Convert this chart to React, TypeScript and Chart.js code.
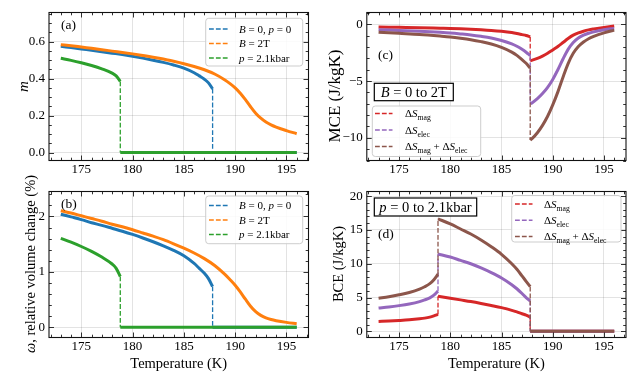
import React, { useEffect, useRef } from 'react';
import { Chart, registerables } from 'chart.js';

Chart.register(...registerables);

const SERIF = '"Liberation Serif", "Times New Roman", serif';
const C_BLUE = '#1f77b4';
const C_ORANGE = '#ff7f0e';
const C_GREEN = '#2ca02c';
const C_RED = '#d62728';
const C_PURPLE = '#9467bd';
const C_BROWN = '#8c564b';
const GRID = 'rgba(0,0,0,0.14)';

// ---------- x axis ----------
const X_MIN = 171.85;
const X_MAX = 197.15;
const X_TICK_STEP = 5;

// ---------- panels (a),(b): order parameter m and volume change ω ----------
const T_P0 = [173, 174, 175, 176, 177, 178, 179, 180, 181, 182, 183, 184, 185, 186, 186.5, 187, 187.4, 187.8];
const M_P0 = [0.575, 0.568, 0.561, 0.553, 0.546, 0.538, 0.530, 0.521, 0.511, 0.500, 0.488, 0.474, 0.457, 0.432, 0.415, 0.397, 0.377, 0.345];
const W_P0 = [2.040, 1.991, 1.942, 1.887, 1.839, 1.786, 1.733, 1.675, 1.611, 1.543, 1.469, 1.386, 1.289, 1.151, 1.063, 0.972, 0.877, 0.734];
const T_P0_ZERO = [187.8, 196];

const T_B2 = [173, 174, 175, 176, 177, 178, 179, 180, 181, 182, 183, 184, 185, 186, 187, 188, 189, 189.5, 190, 190.5, 191, 191.5, 192, 192.5, 193, 193.5, 194, 195, 196];
const M_B2 = [0.584, 0.578, 0.571, 0.564, 0.557, 0.549, 0.542, 0.534, 0.525, 0.516, 0.506, 0.494, 0.481, 0.466, 0.448, 0.425, 0.393, 0.373, 0.350, 0.321, 0.286, 0.248, 0.213, 0.186, 0.165, 0.150, 0.138, 0.119, 0.102];
const W_B2 = [2.104, 2.061, 2.012, 1.963, 1.914, 1.860, 1.813, 1.759, 1.701, 1.643, 1.580, 1.506, 1.427, 1.340, 1.238, 1.114, 0.953, 0.858, 0.756, 0.636, 0.505, 0.379, 0.280, 0.213, 0.168, 0.139, 0.118, 0.087, 0.064];

const T_P21 = [173, 174, 175, 176, 177, 178, 178.4, 178.8];
const M_P21 = [0.510, 0.499, 0.486, 0.471, 0.453, 0.430, 0.415, 0.385];
const W_P21 = [1.605, 1.536, 1.457, 1.369, 1.266, 1.141, 1.063, 0.915];
const T_P21_ZERO = [178.8, 196];

const ZERO2 = [0, 0];

// ---------- panel (c): MCE ----------
const T_C_PRE = [173, 175, 177, 179, 180, 181, 182, 183, 184, 185, 186, 186.5, 187, 187.4, 187.8];
const MAG_C_PRE = [-0.23, -0.26, -0.29, -0.33, -0.35, -0.38, -0.42, -0.47, -0.53, -0.61, -0.72, -0.8, -0.9, -0.98, -1.1];
const ELEC_C_PRE = [-0.46, -0.53, -0.6, -0.7, -0.76, -0.84, -0.93, -1.05, -1.2, -1.42, -1.72, -1.93, -2.2, -2.45, -2.75];
const TOT_C_PRE = [-0.69, -0.79, -0.89, -1.03, -1.11, -1.22, -1.35, -1.52, -1.73, -2.03, -2.44, -2.73, -3.1, -3.43, -3.85];
const T_C_POST = [187.8, 188, 188.5, 189, 189.5, 190, 190.5, 191, 191.5, 192, 192.5, 193, 193.5, 194, 195, 196];
const MAG_C_POST = [-3.2, -3.15, -3.0, -2.8, -2.55, -2.25, -1.95, -1.6, -1.25, -0.95, -0.75, -0.6, -0.48, -0.4, -0.27, -0.15];
const ELEC_C_POST = [-7.0, -6.9, -6.55, -6.1, -5.55, -4.85, -4.0, -3.05, -2.2, -1.6, -1.2, -0.95, -0.78, -0.66, -0.48, -0.35];
const TOT_C_POST = [-10.2, -10.05, -9.55, -8.9, -8.1, -7.1, -5.95, -4.65, -3.45, -2.55, -1.95, -1.55, -1.26, -1.06, -0.75, -0.5];

// ---------- panel (d): BCE ----------
const T_D_PRE = [173, 174, 175, 176, 177, 177.5, 178, 178.4, 178.8];
const MAG_D_PRE = [1.45, 1.52, 1.6, 1.7, 1.85, 1.95, 2.1, 2.28, 2.5];
const ELEC_D_PRE = [3.45, 3.6, 3.8, 4.05, 4.4, 4.65, 4.95, 5.35, 5.95];
const TOT_D_PRE = [4.9, 5.12, 5.4, 5.75, 6.25, 6.6, 7.05, 7.63, 8.45];
const T_D_MID = [178.8, 180, 181, 182, 183, 184, 185, 186, 186.5, 187, 187.4, 187.8];
const MAG_D_MID = [5.2, 4.9, 4.65, 4.4, 4.12, 3.82, 3.5, 3.1, 2.88, 2.6, 2.4, 2.1];
const ELEC_D_MID = [11.45, 11.0, 10.5, 10.0, 9.4, 8.7, 7.9, 6.9, 6.3, 5.6, 5.0, 4.5];
const TOT_D_MID = [16.65, 15.9, 15.15, 14.4, 13.52, 12.52, 11.4, 10.0, 9.18, 8.2, 7.4, 6.6];
const T_D_POST = [187.8, 196];

// ---------- helpers ----------
type Seg = { t: string; it?: boolean; sub?: boolean };
type P = { x: number; y: number | null };

function pts(xs: number[], ys: number[]): P[] {
  return xs.map((x, i) => ({ x, y: ys[i] }));
}
function joinGap(...parts: P[][]): P[] {
  const out: P[] = [];
  parts.forEach((p, k) => {
    if (k > 0) out.push({ x: p[0].x, y: null });
    out.push(...p);
  });
  return out;
}
function last(a: number[]) {
  return a[a.length - 1];
}
function solid(data: P[], color: string, order: number) {
  return {
    data,
    borderColor: color,
    backgroundColor: color,
    borderWidth: 3,
    pointRadius: 0,
    cubicInterpolationMode: 'monotone',
    spanGaps: false,
    fill: false,
    order,
  };
}
function dashed(data: P[], color: string, order: number) {
  return {
    data,
    borderColor: color,
    backgroundColor: color,
    borderWidth: 1.3,
    borderDash: [4.8, 2.1],
    pointRadius: 0,
    tension: 0,
    spanGaps: false,
    fill: false,
    order,
  };
}

function segFont(s: Seg, size: number) {
  const sz = s.sub ? size * 0.7 : size;
  return `${s.it ? 'italic ' : ''}${sz}px ${SERIF}`;
}
function richWidth(ctx: CanvasRenderingContext2D, segs: Seg[], size: number) {
  let w = 0;
  for (const s of segs) {
    ctx.font = segFont(s, size);
    w += ctx.measureText(s.t).width;
  }
  return w;
}
function drawRich(ctx: CanvasRenderingContext2D, segs: Seg[], x: number, baseline: number, size: number, align: 'left' | 'center') {
  const w = richWidth(ctx, segs, size);
  let cx = align === 'center' ? x - w / 2 : x;
  ctx.textAlign = 'left';
  ctx.textBaseline = 'alphabetic';
  for (const s of segs) {
    ctx.font = segFont(s, size);
    ctx.fillText(s.t, cx, baseline + (s.sub ? size * 0.24 : 0));
    cx += ctx.measureText(s.t).width;
  }
}

interface LegendDef {
  box: [number, number, number, number];
  rows: number[];
  hx: [number, number];
  tx: number;
  size: number;
  items: { color: string; segs: Seg[] }[];
}
interface PanelDef {
  area: { l: number; t: number; r: number; b: number };
  y: { min: number; max: number; step: number; minor: number; fmt: (v: number) => string };
  datasets: any[];
  legend: LegendDef;
  tag: { t: string; x: number; y: number };
  box?: { segs: Seg[]; rect: [number, number, number, number]; size: number };
  yTitle: { segs: Seg[]; x: number; y: number; size: number };
  xTitle?: { x: number; y: number };
}

const LEG_AB = [
  { color: C_BLUE, segs: [{ t: 'B', it: true }, { t: ' = 0, ' }, { t: 'p', it: true }, { t: ' = 0' }] },
  { color: C_ORANGE, segs: [{ t: 'B', it: true }, { t: ' = 2T' }] },
  { color: C_GREEN, segs: [{ t: 'p', it: true }, { t: ' = 2.1kbar' }] },
];
const LEG_CD = [
  { color: C_RED, segs: [{ t: 'Δ' }, { t: 'S', it: true }, { t: 'mag', sub: true }] },
  { color: C_PURPLE, segs: [{ t: 'Δ' }, { t: 'S', it: true }, { t: 'elec', sub: true }] },
  {
    color: C_BROWN,
    segs: [{ t: 'Δ' }, { t: 'S', it: true }, { t: 'mag', sub: true }, { t: ' + Δ' }, { t: 'S', it: true }, { t: 'elec', sub: true }],
  },
];

const minusFmt = (v: number) => (v < 0 ? '\u2212' + Math.abs(v) : String(v));

const PANELS: PanelDef[] = [
  {
    area: { l: 49, t: 12.5, r: 308.5, b: 160.5 },
    y: { min: -0.043, max: 0.758, step: 0.2, minor: 0.05, fmt: (v) => v.toFixed(1) },
    datasets: [
      solid(joinGap(pts(T_P0, M_P0), pts(T_P0_ZERO, ZERO2)), C_BLUE, 6),
      dashed(pts([last(T_P0), last(T_P0)], [last(M_P0), 0]), C_BLUE, 5),
      solid(pts(T_B2, M_B2), C_ORANGE, 4),
      dashed(pts([last(T_P21), last(T_P21)], [last(M_P21), 0]), C_GREEN, 3),
      solid(joinGap(pts(T_P21, M_P21), pts(T_P21_ZERO, ZERO2)), C_GREEN, 2),
    ],
    legend: { box: [205.7, 18.3, 302.7, 66], rows: [29, 43.5, 58], hx: [209, 229], tx: 239, size: 11, items: LEG_AB },
    tag: { t: '(a)', x: 61, y: 25 },
    yTitle: { segs: [{ t: 'm', it: true }], x: 22.5, y: 86.5, size: 15 },
  },
  {
    area: { l: 49, t: 191.5, r: 308.5, b: 337.5 },
    y: { min: -0.186, max: 2.45, step: 1, minor: 0.2, fmt: (v) => String(v) },
    datasets: [
      solid(joinGap(pts(T_P0, W_P0), pts(T_P0_ZERO, ZERO2)), C_BLUE, 6),
      dashed(pts([last(T_P0), last(T_P0)], [last(W_P0), 0]), C_BLUE, 5),
      solid(pts(T_B2, W_B2), C_ORANGE, 4),
      dashed(pts([last(T_P21), last(T_P21)], [last(W_P21), 0]), C_GREEN, 3),
      solid(joinGap(pts(T_P21, W_P21), pts(T_P21_ZERO, ZERO2)), C_GREEN, 2),
    ],
    legend: { box: [205.7, 196, 302.7, 243.7], rows: [205.5, 220, 234.5], hx: [209, 229], tx: 239, size: 11, items: LEG_AB },
    tag: { t: '(b)', x: 61, y: 204.5 },
    yTitle: { segs: [{ t: 'ω', it: true }, { t: ', relative volume change (%)' }], x: 30, y: 264, size: 14.5 },
    xTitle: { x: 178.7, y: 362.8 },
  },
  {
    area: { l: 366.8, t: 12.5, r: 626, b: 160.5 },
    y: { min: -12, max: 1.05, step: 5, minor: 1, fmt: minusFmt },
    datasets: [
      solid(joinGap(pts(T_C_PRE, MAG_C_PRE), pts(T_C_POST, MAG_C_POST)), C_RED, 6),
      dashed(pts([last(T_C_PRE), last(T_C_PRE)], [last(MAG_C_PRE), MAG_C_POST[0]]), C_RED, 5),
      solid(joinGap(pts(T_C_PRE, ELEC_C_PRE), pts(T_C_POST, ELEC_C_POST)), C_PURPLE, 4),
      dashed(pts([last(T_C_PRE), last(T_C_PRE)], [last(ELEC_C_PRE), ELEC_C_POST[0]]), C_PURPLE, 3),
      dashed(pts([last(T_C_PRE), last(T_C_PRE)], [last(TOT_C_PRE), TOT_C_POST[0]]), C_BROWN, 2),
      solid(joinGap(pts(T_C_PRE, TOT_C_PRE), pts(T_C_POST, TOT_C_POST)), C_BROWN, 1),
    ],
    legend: { box: [372.3, 106, 480.7, 156.5], rows: [113.5, 130, 146.5], hx: [375, 392.5], tx: 405, size: 11, items: LEG_CD },
    tag: { t: '(c)', x: 378, y: 55 },
    box: { segs: [{ t: 'B', it: true }, { t: ' = 0 to 2T' }], rect: [374.3, 83.3, 453.3, 100.7], size: 14.5 },
    yTitle: { segs: [{ t: 'MCE (J/kgK)' }], x: 334, y: 96, size: 17 },
  },
  {
    area: { l: 366.8, t: 191.5, r: 626, b: 337.5 },
    y: { min: -0.92, max: 20.7, step: 5, minor: 1, fmt: (v) => String(v) },
    datasets: [
      solid(joinGap(pts(T_D_PRE, MAG_D_PRE), pts(T_D_MID, MAG_D_MID), pts(T_D_POST, ZERO2)), C_RED, 6),
      dashed(
        joinGap(pts([178.8, 178.8], [last(MAG_D_PRE), MAG_D_MID[0]]), pts([187.8, 187.8], [last(MAG_D_MID), 0])),
        C_RED,
        5,
      ),
      solid(joinGap(pts(T_D_PRE, ELEC_D_PRE), pts(T_D_MID, ELEC_D_MID), pts(T_D_POST, ZERO2)), C_PURPLE, 4),
      dashed(
        joinGap(pts([178.8, 178.8], [last(ELEC_D_PRE), ELEC_D_MID[0]]), pts([187.8, 187.8], [last(ELEC_D_MID), 0])),
        C_PURPLE,
        3,
      ),
      dashed(
        joinGap(pts([178.8, 178.8], [last(TOT_D_PRE), TOT_D_MID[0]]), pts([187.8, 187.8], [last(TOT_D_MID), 0])),
        C_BROWN,
        2,
      ),
      solid(joinGap(pts(T_D_PRE, TOT_D_PRE), pts(T_D_MID, TOT_D_MID), pts(T_D_POST, ZERO2)), C_BROWN, 1),
    ],
    legend: { box: [511.7, 195.5, 621, 242], rows: [204, 220.3, 236.5], hx: [515, 532.5], tx: 544, size: 11, items: LEG_CD },
    tag: { t: '(d)', x: 378, y: 234.5 },
    box: { segs: [{ t: 'p', it: true }, { t: ' = 0 to 2.1kbar' }], rect: [374.3, 198, 476.7, 216], size: 14.5 },
    yTitle: { segs: [{ t: 'BCE (J/kgK)' }], x: 338, y: 264, size: 14.5 },
    xTitle: { x: 496.4, y: 362.8 },
  },
];

const YW = 40;
const XH = 30;
const MAJ = 5;
const MIN = 2.8;

function roundRect(ctx: CanvasRenderingContext2D, x: number, y: number, w: number, h: number, r: number) {
  ctx.beginPath();
  ctx.moveTo(x + r, y);
  ctx.lineTo(x + w - r, y);
  ctx.arcTo(x + w, y, x + w, y + r, r);
  ctx.lineTo(x + w, y + h - r);
  ctx.arcTo(x + w, y + h, x + w - r, y + h, r);
  ctx.lineTo(x + r, y + h);
  ctx.arcTo(x, y + h, x, y + h - r, r);
  ctx.lineTo(x, y + r);
  ctx.arcTo(x, y, x + r, y, r);
  ctx.closePath();
}

function decor(def: PanelDef) {
  return {
    id: 'decor',
    afterDraw(chart: any) {
      const ctx: CanvasRenderingContext2D = chart.ctx;
      const { left, right, top, bottom } = chart.chartArea;
      const xs = chart.scales.x;
      const ys = chart.scales.y;
      ctx.save();
      // ticks
      ctx.strokeStyle = '#000';
      ctx.lineWidth = 0.8;
      ctx.beginPath();
      for (let v = Math.ceil(X_MIN); v <= X_MAX; v += 1) {
        const len = v % X_TICK_STEP === 0 ? MAJ : MIN;
        const px = Math.round(xs.getPixelForValue(v)) + 0.5;
        ctx.moveTo(px, bottom);
        ctx.lineTo(px, bottom - len);
        ctx.moveTo(px, top);
        ctx.lineTo(px, top + len);
      }
      const { min, max, step, minor } = def.y;
      for (let k = Math.ceil(min / minor - 1e-9); k * minor <= max + 1e-9; k++) {
        const v = k * minor;
        const r = v / step;
        const len = Math.abs(r - Math.round(r)) < 1e-6 ? MAJ : MIN;
        const py = Math.round(ys.getPixelForValue(v)) + 0.5;
        ctx.moveTo(left, py);
        ctx.lineTo(left + len, py);
        ctx.moveTo(right, py);
        ctx.lineTo(right - len, py);
      }
      ctx.stroke();
      // frame
      ctx.lineWidth = 1.1;
      ctx.strokeStyle = '#111';
      ctx.strokeRect(left, top, right - left, bottom - top);

      ctx.fillStyle = '#000';
      // panel tag
      ctx.font = `13.5px ${SERIF}`;
      ctx.textAlign = 'left';
      ctx.textBaseline = 'middle';
      ctx.fillText(def.tag.t, def.tag.x, def.tag.y);

      // boxed annotation
      if (def.box) {
        const [x0, y0, x1, y1] = def.box.rect;
        ctx.fillStyle = '#fff';
        ctx.fillRect(x0, y0, x1 - x0, y1 - y0);
        ctx.strokeStyle = '#000';
        ctx.lineWidth = 1.2;
        ctx.strokeRect(x0, y0, x1 - x0, y1 - y0);
        ctx.fillStyle = '#000';
        drawRich(ctx, def.box.segs, (x0 + x1) / 2, (y0 + y1) / 2 + def.box.size * 0.34, def.box.size, 'center');
      }

      // legend
      const L = def.legend;
      const [bx0, by0, bx1, by1] = L.box;
      roundRect(ctx, bx0, by0, bx1 - bx0, by1 - by0, 3);
      ctx.fillStyle = 'rgba(255,255,255,0.85)';
      ctx.fill();
      ctx.strokeStyle = 'rgba(200,200,200,0.9)';
      ctx.lineWidth = 1;
      ctx.stroke();
      L.items.forEach((it, i) => {
        const y = L.rows[i];
        ctx.strokeStyle = it.color;
        ctx.lineWidth = 1.4;
        ctx.setLineDash([4.8, 2.1]);
        ctx.beginPath();
        ctx.moveTo(L.hx[0], y);
        ctx.lineTo(L.hx[1], y);
        ctx.stroke();
        ctx.setLineDash([]);
        ctx.fillStyle = '#000';
        drawRich(ctx, it.segs, L.tx, y + L.size * 0.36, L.size, 'left');
      });

      // y title (rotated)
      ctx.fillStyle = '#000';
      ctx.save();
      ctx.translate(def.yTitle.x, def.yTitle.y);
      ctx.rotate(-Math.PI / 2);
      drawRich(ctx, def.yTitle.segs, 0, def.yTitle.size * 0.34, def.yTitle.size, 'center');
      ctx.restore();

      // x title
      if (def.xTitle) {
        drawRich(ctx, [{ t: 'Temperature (K)' }], def.xTitle.x, def.xTitle.y + 14.5 * 0.34, 14.5, 'center');
      }
      ctx.restore();
    },
  };
}

function buildConfig(def: PanelDef): any {
  const { l, t, r, b } = def.area;
  const zeroPad = (s: any) => {
    s.paddingLeft = 0;
    s.paddingRight = 0;
    s.paddingTop = 0;
    s.paddingBottom = 0;
  };
  return {
    type: 'line',
    data: { datasets: def.datasets },
    options: {
      animation: false,
      responsive: false,
      maintainAspectRatio: false,
      events: [],
      layout: { padding: { left: l - YW, top: t, right: 640 - r, bottom: 384 - b - XH } },
      plugins: { legend: { display: false }, tooltip: { enabled: false } },
      scales: {
        x: {
          type: 'linear',
          min: X_MIN,
          max: X_MAX,
          ticks: {
            stepSize: X_TICK_STEP,
            includeBounds: false,
            autoSkip: false,
            maxRotation: 0,
            padding: 1,
            color: '#000',
            font: { family: SERIF, size: 13 },
            callback: (v: number) => String(v),
          },
          grid: { color: GRID, lineWidth: 0.8, drawTicks: false },
          border: { display: false },
          afterFit: (s: any) => {
            s.height = XH;
            zeroPad(s);
          },
        },
        y: {
          type: 'linear',
          min: def.y.min,
          max: def.y.max,
          ticks: {
            stepSize: def.y.step,
            includeBounds: false,
            autoSkip: false,
            padding: 4,
            color: '#000',
            font: { family: SERIF, size: 13 },
            callback: (v: number) => def.y.fmt(v),
          },
          grid: { color: GRID, lineWidth: 0.8, drawTicks: false },
          border: { display: false },
          afterFit: (s: any) => {
            s.width = YW;
            zeroPad(s);
          },
        },
      },
    },
    plugins: [decor(def)],
  };
}

function Panel({ def }: { def: PanelDef }) {
  const ref = useRef<HTMLCanvasElement>(null);
  useEffect(() => {
    const chart = new Chart(ref.current as HTMLCanvasElement, buildConfig(def));
    return () => chart.destroy();
  }, [def]);
  return (
    <canvas
      ref={ref}
      width={640}
      height={384}
      style={{ position: 'absolute', left: 0, top: 0, width: 640, height: 384 }}
    />
  );
}

export default function App() {
  return (
    <div style={{ position: 'fixed', left: 0, top: 0, width: 640, height: 384, background: '#fff', overflow: 'hidden' }}>
      {PANELS.map((p, i) => (
        <Panel key={i} def={p} />
      ))}
    </div>
  );
}
